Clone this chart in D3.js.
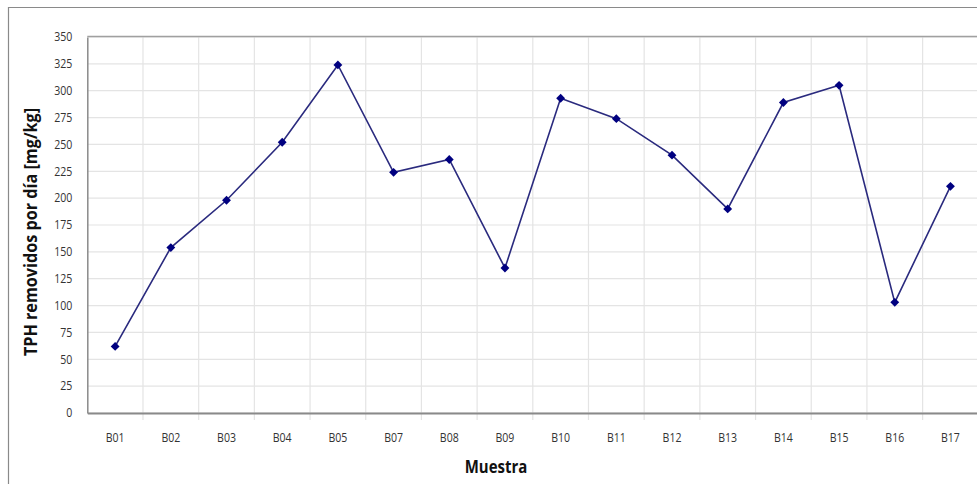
<!DOCTYPE html>
<html><head><meta charset="utf-8">
<script src="https://cdn.jsdelivr.net/npm/d3@7"></script>
<style>body{margin:0;background:#fff}svg{display:block}</style>
</head><body>
<svg id="c" width="977" height="484"></svg>
<script>
const categories = ["B01","B02","B03","B04","B05","B07","B08","B09","B10","B11","B12","B13","B14","B15","B16","B17"];
const values = [62,154,198,252,324,224,236,135,293,274,240,190,289,305,103,211];
const yTicks = [0,25,50,75,100,125,150,175,200,225,250,275,300,325,350];
const yTitle = "TPH removidos por día [mg/kg]";
const xTitle = "Muestra";

(function(){
const svg = d3.select("#c");
const pL = 87.3, pR = 978.3, pT = 37, pB = 413;
const font = "'Open Sans', 'Noto Sans', sans-serif";
const sx = 0.88;

// outer frame
svg.append("path").attr("d","M8.5,484 V7.5 H977").attr("fill","none").attr("stroke","#8a8a8a").attr("stroke-width",1.2);

const x = d3.scaleBand().domain(categories).range([pL,pR]).padding(0);
const y = d3.scaleLinear().domain([0,350]).range([pB,pT]);

// horizontal gridlines
svg.append("g").selectAll("line").data(yTicks).join("line")
  .attr("x1",pL).attr("x2",pR).attr("y1",d=>y(d)).attr("y2",d=>y(d))
  .attr("stroke","#e4e4e4").attr("stroke-width",1.2);
// vertical gridlines at band boundaries
svg.append("g").selectAll("line").data(categories.slice(1)).join("line")
  .attr("x1",d=>x(d)).attr("x2",d=>x(d)).attr("y1",pT).attr("y2",pB+7)
  .attr("stroke","#e4e4e4").attr("stroke-width",1.2);

// axes
const yAxis = svg.append("g").attr("transform",`translate(${pL},0)`)
  .call(d3.axisLeft(y).tickValues(yTicks).tickSize(0).tickPadding(15));
yAxis.select(".domain").attr("stroke","#8a8a8a").attr("stroke-width",1.5);
yAxis.selectAll("text").attr("font-family",font).attr("font-size",12).attr("fill","#333")
  .attr("x",-15/sx).attr("transform",`scale(${sx},1)`);

const xAxis = svg.append("g").attr("transform",`translate(0,${pB})`)
  .call(d3.axisBottom(x).tickSize(0).tickPadding(20));
xAxis.select(".domain").attr("stroke","#8a8a8a").attr("stroke-width",1.8);
xAxis.selectAll("text").attr("font-family",font).attr("font-size",12).attr("fill","#333")
  .attr("transform",`scale(${sx},1)`);

// top border of plot area
svg.append("line").attr("x1",pL).attr("x2",pR).attr("y1",pT-0.5).attr("y2",pT-0.5)
  .attr("stroke","#a0a0a0").attr("stroke-width",1.5);

// line
const cx = c => x(c) + x.bandwidth()/2;
const line = d3.line().x((d,i)=>cx(categories[i])).y(d=>y(d));
svg.append("path").datum(values).attr("d",line).attr("fill","none")
  .attr("stroke","#2a2a7e").attr("stroke-width",1.6);
svg.append("g").selectAll("path").data(values).join("path")
  .attr("d",d3.symbol().type(d3.symbolDiamond2).size(50))
  .attr("transform",(d,i)=>`translate(${cx(categories[i])},${y(d)})`)
  .attr("fill","#000080");

// titles
svg.append("text").attr("transform","translate(496,473) scale(0.88,1)")
  .attr("text-anchor","middle").attr("font-family",font).attr("font-weight","bold")
  .attr("font-size",17).attr("fill","#111").text(xTitle);
svg.append("text").attr("transform","translate(37,232) rotate(-90) scale(0.9,1)")
  .attr("text-anchor","middle").attr("font-family",font).attr("font-weight","bold")
  .attr("font-size",18).attr("fill","#111").text(yTitle);
})();
</script>
</body></html>
